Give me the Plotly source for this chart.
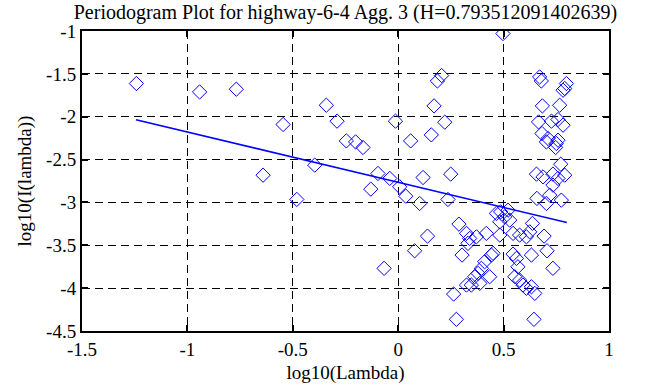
import plotly.graph_objects as go

# Periodogram points: log10(lambda), log10(I(lambda))
log_lambda = [
    -1.242, -0.942, -0.768, -0.546, -0.641, 0.497, 0.186, 0.206, 0.671, 0.679,
    0.798, 0.790, 0.782, -0.341, 0.170, 0.684, 0.766, -0.290, -0.013, 0.221,
    0.666, 0.727, 0.758, 0.782, -0.246, -0.202, -0.167, 0.059, 0.157, 0.682,
    0.711, 0.703, 0.758, 0.750, 0.747, -0.396, -0.096, -0.040, 0.118, 0.249,
    0.656, 0.771, 0.734, 0.790, 0.758, 0.687, -0.130, 0.007, 0.036, 0.102,
    0.236, -0.481, 0.658, 0.734, 0.719, 0.774, 0.703, 0.486, 0.466, 0.505,
    0.482, 0.529, 0.521, 0.288, 0.324, 0.339, 0.331, 0.371, 0.418, 0.482,
    0.545, 0.576, 0.608, 0.624, 0.637, 0.692, 0.139, 0.078, 0.303, 0.442,
    0.450, 0.545, 0.561, 0.632, 0.706, 0.410, 0.395, 0.379, 0.363, 0.347,
    0.387, 0.434, 0.324, 0.568, 0.553, 0.576, 0.592, 0.608, 0.632, 0.648,
    0.734, -0.067, 0.263, 0.276, 0.644,
]
log_I = [
    -1.613, -1.711, -1.679, -2.091, -2.682, -1.030, -1.583, -1.520, -1.536, -1.583,
    -1.613, -1.671, -1.691, -1.866, -1.874, -1.874, -1.866, -2.052, -2.052, -2.064,
    -2.061, -2.052, -2.033, -2.099, -2.282, -2.294, -2.359, -2.282, -2.212, -2.196,
    -2.254, -2.294, -2.274, -2.312, -2.359, -2.565, -2.662, -2.720, -2.709, -2.670,
    -2.670, -2.554, -2.670, -2.682, -2.720, -2.702, -2.845, -2.818, -2.927, -3.012,
    -2.965, -2.965, -2.953, -2.798, -2.915, -2.973, -3.012, -3.110, -3.128, -3.168,
    -3.226, -3.206, -3.090, -3.253, -3.361, -3.420, -3.478, -3.401, -3.361, -3.381,
    -3.361, -3.381, -3.401, -3.343, -3.245, -3.393, -3.393, -3.564, -3.614, -3.614,
    -3.594, -3.603, -3.653, -3.614, -3.564, -3.692, -3.769, -3.828, -3.867, -3.964,
    -3.944, -3.867, -3.964, -3.751, -3.867, -3.906, -3.964, -4.002, -3.984, -4.061,
    -3.769, -3.769, -4.069, -4.364, -4.364,
]

# Least-squares fit line endpoints
fit_x = [-1.244, 0.800]
fit_y = [-2.035, -3.235]

x_ticks = [-1.5, -1, -0.5, 0, 0.5, 1]
x_tick_labels = ["-1.5", "-1", "-0.5", "0", "0.5", "1"]
y_ticks = [-4.5, -4, -3.5, -3, -2.5, -2, -1.5, -1]
y_tick_labels = ["-4.5", "-4", "-3.5", "-3", "-2.5", "-2", "-1.5", "-1"]

FONT = "Liberation Serif"

fig = go.Figure()
fig.add_trace(go.Scatter(
    x=log_lambda, y=log_I, mode="markers",
    marker=dict(symbol="diamond-open", size=11, color="#0000ff",
                line=dict(width=1, color="#0000ff")),
    showlegend=False, hoverinfo="skip",
))
fig.add_trace(go.Scatter(
    x=fit_x, y=fit_y, mode="lines",
    line=dict(color="#0000ff", width=1.5),
    showlegend=False, hoverinfo="skip",
))

axis_common = dict(
    showline=True, linewidth=2, linecolor="black", mirror="ticks",
    ticks="inside", ticklen=6, tickwidth=2, tickcolor="black",
    showgrid=True, gridcolor="black", gridwidth=1, griddash="8px,5px",
    zeroline=False,
    tickfont=dict(family=FONT, size=19, color="black"),
)

fig.update_xaxes(range=[-1.5, 1], tickvals=x_ticks, ticktext=x_tick_labels,
                 title=dict(text="log10(Lambda)", font=dict(family=FONT, size=19, color="black"), standoff=7),
                 **axis_common)
fig.update_yaxes(range=[-4.5, -1], tickvals=y_ticks, ticktext=y_tick_labels,
                 title=dict(text="log10(I(lambda))", font=dict(family=FONT, size=19, color="black"), standoff=9),
                 **axis_common)

fig.update_layout(
    width=658, height=387,
    margin=dict(l=82, r=49, t=31, b=56, autoexpand=False),
    paper_bgcolor="white", plot_bgcolor="white",
    title=dict(text="Periodogram Plot for highway-6-4 Agg. 3 (H=0.793512091402639)",
               font=dict(family=FONT, size=20, color="black"),
               x=0.525, xanchor="center", y=1 - 12 / 387, yanchor="middle", yref="container"),
)

fig.write_html("out.html", config={"displayModeBar": False},
               post_script="document.body.style.margin='0px';")
